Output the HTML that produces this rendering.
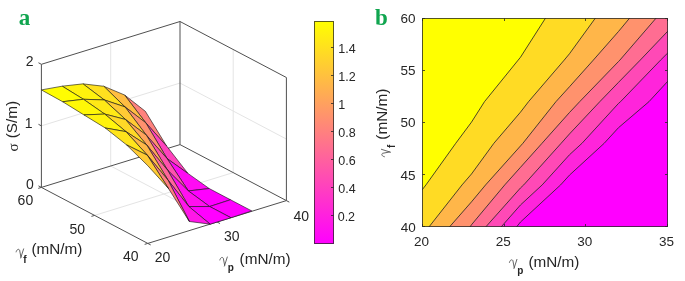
<!DOCTYPE html>
<html><head><meta charset="utf-8"><style>
html,body{margin:0;padding:0;background:#fff;}
svg{display:block;will-change:transform;}
text{font-family:"Liberation Sans",sans-serif;fill:#262626;}
.t12{font-size:12.5px;}
.t13{font-size:13.5px;}
.t14{font-size:14px;}
.t15{font-size:15.3px;}
.g15{font-family:"Liberation Serif",serif;font-size:15px;}
.sub{font-size:10px;font-weight:bold;}
.lab{font-family:"Liberation Serif",serif;font-weight:bold;font-size:23px;fill:#10a54f;}
</style></head><body>
<svg width="685" height="281" viewBox="0 0 685 281">
<rect width="685" height="281" fill="#fff"/>
<line x1="110.7" y1="166" x2="110.7" y2="42.9" stroke="#e4e4e4" stroke-width="1.0"/>
<line x1="110.7" y1="166" x2="217.1" y2="222" stroke="#e4e4e4" stroke-width="1.0"/>
<line x1="233.2" y1="172.6" x2="233.2" y2="49.5" stroke="#e4e4e4" stroke-width="1.0"/>
<line x1="94.6" y1="215.4" x2="233.2" y2="172.6" stroke="#e4e4e4" stroke-width="1.0"/>
<line x1="41.4" y1="125.85" x2="180" y2="83.05" stroke="#e4e4e4" stroke-width="1.0"/>
<line x1="180" y1="83.05" x2="286.4" y2="139.05" stroke="#e4e4e4" stroke-width="1.0"/>
<line x1="41.4" y1="64.3" x2="180" y2="21.5" stroke="#505050" stroke-width="1.0"/>
<line x1="180" y1="21.5" x2="286.4" y2="77.5" stroke="#505050" stroke-width="1.0"/>
<line x1="180" y1="144.6" x2="180" y2="21.5" stroke="#505050" stroke-width="1.0"/>
<line x1="286.4" y1="200.6" x2="286.4" y2="77.5" stroke="#505050" stroke-width="1.0"/>
<line x1="41.4" y1="187.4" x2="180" y2="144.6" stroke="#505050" stroke-width="1.0"/>
<line x1="180" y1="144.6" x2="286.4" y2="200.6" stroke="#505050" stroke-width="1.0"/>
<line x1="41.4" y1="187.4" x2="41.4" y2="64.3" stroke="#505050" stroke-width="1.0"/>
<line x1="41.4" y1="187.4" x2="147.8" y2="243.4" stroke="#505050" stroke-width="1.0"/>
<line x1="147.8" y1="243.4" x2="286.4" y2="200.6" stroke="#505050" stroke-width="1.0"/>
<line x1="41.4" y1="187.4" x2="38.48" y2="185.86" stroke="#505050" stroke-width="1.0"/>
<line x1="41.4" y1="125.85" x2="38.48" y2="124.31" stroke="#505050" stroke-width="1.0"/>
<line x1="41.4" y1="64.3" x2="38.48" y2="62.76" stroke="#505050" stroke-width="1.0"/>
<line x1="41.4" y1="187.4" x2="38.25" y2="188.37" stroke="#505050" stroke-width="1.0"/>
<line x1="94.6" y1="215.4" x2="91.45" y2="216.37" stroke="#505050" stroke-width="1.0"/>
<line x1="147.8" y1="243.4" x2="144.65" y2="244.37" stroke="#505050" stroke-width="1.0"/>
<line x1="147.8" y1="243.4" x2="150.72" y2="244.94" stroke="#505050" stroke-width="1.0"/>
<line x1="217.1" y1="222" x2="220.02" y2="223.54" stroke="#505050" stroke-width="1.0"/>
<line x1="286.4" y1="200.6" x2="289.32" y2="202.14" stroke="#505050" stroke-width="1.0"/>
<polygon points="124.56,94.97 145.35,111.32 166.63,146.06 145.84,122.84" fill="#ff827d" stroke="#141414" stroke-width="0.62" stroke-linejoin="round"/>
<polygon points="145.84,122.84 166.63,146.06 187.91,173.42 167.12,158.63" fill="#ff42bd" stroke="#141414" stroke-width="0.62" stroke-linejoin="round"/>
<polygon points="167.12,158.63 187.91,173.42 209.19,188.54 188.4,190.95" fill="#ff0bf4" stroke="#141414" stroke-width="0.62" stroke-linejoin="round"/>
<polygon points="103.77,86.28 124.56,94.97 145.84,122.84 125.05,106.93" fill="#ffbd42" stroke="#141414" stroke-width="0.62" stroke-linejoin="round"/>
<polygon points="188.4,190.95 209.19,188.54 230.47,199.76 209.68,206.54" fill="#ff00ff" stroke="#141414" stroke-width="0.62" stroke-linejoin="round"/>
<polygon points="125.05,106.93 145.84,122.84 167.12,158.63 146.33,135.1" fill="#ff916e" stroke="#141414" stroke-width="0.62" stroke-linejoin="round"/>
<polygon points="146.33,135.1 167.12,158.63 188.4,190.95 167.61,170.2" fill="#ff52ad" stroke="#141414" stroke-width="0.62" stroke-linejoin="round"/>
<polygon points="82.98,83.87 103.77,86.28 125.05,106.93 104.26,99.93" fill="#ffe01f" stroke="#141414" stroke-width="0.62" stroke-linejoin="round"/>
<polygon points="167.61,170.2 188.4,190.95 209.68,206.54 188.89,206.56" fill="#ff10ef" stroke="#141414" stroke-width="0.62" stroke-linejoin="round"/>
<polygon points="209.68,206.54 230.47,199.76 251.75,210.93 230.96,217.73" fill="#ff00ff" stroke="#141414" stroke-width="0.62" stroke-linejoin="round"/>
<polygon points="104.26,99.93 125.05,106.93 146.33,135.1 125.54,119.49" fill="#ffca35" stroke="#141414" stroke-width="0.62" stroke-linejoin="round"/>
<polygon points="62.19,86.18 82.98,83.87 104.26,99.93 83.47,99.29" fill="#fff20d" stroke="#141414" stroke-width="0.62" stroke-linejoin="round"/>
<polygon points="188.89,206.56 209.68,206.54 230.96,217.73 210.17,224.17" fill="#ff00ff" stroke="#141414" stroke-width="0.62" stroke-linejoin="round"/>
<polygon points="125.54,119.49 146.33,135.1 167.61,170.2 146.82,145.08" fill="#ffa45b" stroke="#141414" stroke-width="0.62" stroke-linejoin="round"/>
<polygon points="41.4,89.9 62.19,86.18 83.47,99.29 62.68,101.72" fill="#fffd02" stroke="#141414" stroke-width="0.62" stroke-linejoin="round"/>
<polygon points="146.82,145.08 167.61,170.2 188.89,206.56 168.1,180.26" fill="#ff6699" stroke="#141414" stroke-width="0.62" stroke-linejoin="round"/>
<polygon points="83.47,99.29 104.26,99.93 125.54,119.49 104.75,114.08" fill="#ffe916" stroke="#141414" stroke-width="0.62" stroke-linejoin="round"/>
<polygon points="168.1,180.26 188.89,206.56 210.17,224.17 189.38,221.5" fill="#ff17e8" stroke="#141414" stroke-width="0.62" stroke-linejoin="round"/>
<polygon points="104.75,114.08 125.54,119.49 146.82,145.08 126.03,131.66" fill="#ffd827" stroke="#141414" stroke-width="0.62" stroke-linejoin="round"/>
<polygon points="62.68,101.72 83.47,99.29 104.75,114.08 83.96,114.92" fill="#fff807" stroke="#141414" stroke-width="0.62" stroke-linejoin="round"/>
<polygon points="126.03,131.66 146.82,145.08 168.1,180.26 147.31,155.14" fill="#ffb847" stroke="#141414" stroke-width="0.62" stroke-linejoin="round"/>
<polygon points="147.31,155.14 168.1,180.26 189.38,221.5 168.59,188.67" fill="#ff7e81" stroke="#141414" stroke-width="0.62" stroke-linejoin="round"/>
<polygon points="83.96,114.92 104.75,114.08 126.03,131.66 105.24,127.97" fill="#fff30c" stroke="#141414" stroke-width="0.62" stroke-linejoin="round"/>
<polygon points="105.24,127.97 126.03,131.66 147.31,155.14 126.52,144.85" fill="#ffe41b" stroke="#141414" stroke-width="0.62" stroke-linejoin="round"/>
<polygon points="126.52,144.85 147.31,155.14 168.59,188.67 147.8,165.68" fill="#ffcb34" stroke="#141414" stroke-width="0.62" stroke-linejoin="round"/>
<defs><linearGradient id="cb" x1="0" y1="1" x2="0" y2="0"><stop offset="0" stop-color="#ff00ff"/><stop offset="1" stop-color="#ffff00"/></linearGradient></defs>
<rect x="314.0" y="21.0" width="20" height="223" fill="url(#cb)"/>
<rect x="314.5" y="21.5" width="19" height="222" fill="none" stroke="#262626" stroke-opacity="0.75" stroke-width="1"/>
<line x1="333.5" y1="215.5" x2="331" y2="215.5" stroke="#262626" stroke-width="1.0" stroke-opacity="0.8"/>
<line x1="333.5" y1="187.5" x2="331" y2="187.5" stroke="#262626" stroke-width="1.0" stroke-opacity="0.8"/>
<line x1="333.5" y1="159.5" x2="331" y2="159.5" stroke="#262626" stroke-width="1.0" stroke-opacity="0.8"/>
<line x1="333.5" y1="131.5" x2="331" y2="131.5" stroke="#262626" stroke-width="1.0" stroke-opacity="0.8"/>
<line x1="333.5" y1="103.5" x2="331" y2="103.5" stroke="#262626" stroke-width="1.0" stroke-opacity="0.8"/>
<line x1="333.5" y1="75.5" x2="331" y2="75.5" stroke="#262626" stroke-width="1.0" stroke-opacity="0.8"/>
<line x1="333.5" y1="47.5" x2="331" y2="47.5" stroke="#262626" stroke-width="1.0" stroke-opacity="0.8"/>
<clipPath id="cbx"><rect x="422.0" y="18.0" width="246.0" height="209.0"/></clipPath>
<g clip-path="url(#cbx)">
<rect x="422.0" y="18.0" width="246.0" height="209.0" fill="#ff00ff"/>
<path d="M471.5 18L520.5 18L569.5 18L618.5 18L668 18L668 60.1L668 81.03L648.95 101.7L618.5 127.67L604.18 143.3L569.5 175.1L560.62 184.9L520.5 222L516.44 227L471.5 227L422 227L422 184.9L422 143.3L422 101.7L422 60.1L422 18Z" fill="#ff24db" fill-rule="evenodd"/>
<path d="M471.5 18L520.5 18L569.5 18L618.5 18L668 18L668 52.72L660.59 60.1L620.52 101.7L618.5 103.42L581.98 143.3L569.5 154.74L542.19 184.9L520.5 204.95L501.07 227L471.5 227L422 227L422 184.9L422 143.3L422 101.7L422 60.1L422 18Z" fill="#ff49b6" fill-rule="evenodd"/>
<path d="M471.5 18L520.5 18L569.5 18L618.5 18L668 18L668 30.96L640.24 60.1L618.5 82.35L599.79 101.7L569.5 133.92L561.12 143.3L523.75 184.9L520.5 187.91L485.7 227L471.5 227L422 227L422 184.9L422 143.3L422 101.7L422 60.1L422 18Z" fill="#ff6d92" fill-rule="evenodd"/>
<path d="M471.5 18L520.5 18L569.5 18L618.5 18L656.18 18L619.89 60.1L618.5 61.52L579.65 101.7L569.5 112.49L542 143.3L520.5 167.31L504.75 184.9L471.5 224.76L469.94 227L422 227L422 184.9L422 143.3L422 101.7L422 60.1L422 18Z" fill="#ff926d" fill-rule="evenodd"/>
<path d="M471.5 18L520.5 18L569.5 18L618.5 18L629.69 18L618.5 31.47L593.33 60.1L569.5 86.73L555.91 101.7L522.88 143.3L520.5 145.95L485.62 184.9L471.5 201.83L449.44 227L422 227L422 184.9L422 143.3L422 101.7L422 60.1L422 18Z" fill="#ffb649" fill-rule="evenodd"/>
<path d="M471.5 18L520.5 18L569.5 18L595.44 18L569.5 53.72L564.21 60.1L528.53 101.7L520.5 112.14L493.87 143.3L471.5 173.98L462.05 184.9L428.93 227L422 227L422 184.9L422 143.3L422 101.7L422 60.1L422 18Z" fill="#ffdb24" fill-rule="evenodd"/>
<path d="M471.5 18L520.5 18L545.58 18L520.5 57.22L518.16 60.1L484.47 101.7L471.5 122.11L455.74 143.3L425.96 184.9L422 190L422 184.9L422 143.3L422 101.7L422 60.1L422 18Z" fill="#ffff00" fill-rule="evenodd"/>
<polyline points="668,81.03 648.95,101.7 618.5,127.67 604.18,143.3 569.5,175.1 560.62,184.9 520.5,222 516.44,227" fill="none" stroke="#222" stroke-width="0.95" stroke-opacity="0.85" stroke-linejoin="round"/>
<polyline points="668,52.72 660.59,60.1 620.52,101.7 618.5,103.42 581.98,143.3 569.5,154.74 542.19,184.9 520.5,204.95 501.07,227" fill="none" stroke="#222" stroke-width="0.95" stroke-opacity="0.85" stroke-linejoin="round"/>
<polyline points="668,30.96 640.24,60.1 618.5,82.35 599.79,101.7 569.5,133.92 561.12,143.3 523.75,184.9 520.5,187.91 485.7,227" fill="none" stroke="#222" stroke-width="0.95" stroke-opacity="0.85" stroke-linejoin="round"/>
<polyline points="656.18,18 619.89,60.1 618.5,61.52 579.65,101.7 569.5,112.49 542,143.3 520.5,167.31 504.75,184.9 471.5,224.76 469.94,227" fill="none" stroke="#222" stroke-width="0.95" stroke-opacity="0.85" stroke-linejoin="round"/>
<polyline points="629.69,18 618.5,31.47 593.33,60.1 569.5,86.73 555.91,101.7 522.88,143.3 520.5,145.95 485.62,184.9 471.5,201.83 449.44,227" fill="none" stroke="#222" stroke-width="0.95" stroke-opacity="0.85" stroke-linejoin="round"/>
<polyline points="595.44,18 569.5,53.72 564.21,60.1 528.53,101.7 520.5,112.14 493.87,143.3 471.5,173.98 462.05,184.9 428.93,227" fill="none" stroke="#222" stroke-width="0.95" stroke-opacity="0.85" stroke-linejoin="round"/>
<polyline points="545.58,18 520.5,57.22 518.16,60.1 484.47,101.7 471.5,122.11 455.74,143.3 425.96,184.9 422,190" fill="none" stroke="#222" stroke-width="0.95" stroke-opacity="0.85" stroke-linejoin="round"/>
</g>
<rect x="422.5" y="18.5" width="245.0" height="208.0" fill="none" stroke="#262626" stroke-opacity="0.78" stroke-width="1"/>
<line x1="422.5" y1="226.5" x2="422.5" y2="224" stroke="#262626" stroke-width="1.0" stroke-opacity="0.8"/>
<line x1="422.5" y1="18.5" x2="422.5" y2="21" stroke="#262626" stroke-width="1.0" stroke-opacity="0.8"/>
<line x1="504.5" y1="226.5" x2="504.5" y2="224" stroke="#262626" stroke-width="1.0" stroke-opacity="0.8"/>
<line x1="504.5" y1="18.5" x2="504.5" y2="21" stroke="#262626" stroke-width="1.0" stroke-opacity="0.8"/>
<line x1="585.5" y1="226.5" x2="585.5" y2="224" stroke="#262626" stroke-width="1.0" stroke-opacity="0.8"/>
<line x1="585.5" y1="18.5" x2="585.5" y2="21" stroke="#262626" stroke-width="1.0" stroke-opacity="0.8"/>
<line x1="667.5" y1="226.5" x2="667.5" y2="224" stroke="#262626" stroke-width="1.0" stroke-opacity="0.8"/>
<line x1="667.5" y1="18.5" x2="667.5" y2="21" stroke="#262626" stroke-width="1.0" stroke-opacity="0.8"/>
<line x1="422.5" y1="226.5" x2="425" y2="226.5" stroke="#262626" stroke-width="1.0" stroke-opacity="0.8"/>
<line x1="667.5" y1="226.5" x2="665" y2="226.5" stroke="#262626" stroke-width="1.0" stroke-opacity="0.8"/>
<line x1="422.5" y1="174.5" x2="425" y2="174.5" stroke="#262626" stroke-width="1.0" stroke-opacity="0.8"/>
<line x1="667.5" y1="174.5" x2="665" y2="174.5" stroke="#262626" stroke-width="1.0" stroke-opacity="0.8"/>
<line x1="422.5" y1="122.5" x2="425" y2="122.5" stroke="#262626" stroke-width="1.0" stroke-opacity="0.8"/>
<line x1="667.5" y1="122.5" x2="665" y2="122.5" stroke="#262626" stroke-width="1.0" stroke-opacity="0.8"/>
<line x1="422.5" y1="70.5" x2="425" y2="70.5" stroke="#262626" stroke-width="1.0" stroke-opacity="0.8"/>
<line x1="667.5" y1="70.5" x2="665" y2="70.5" stroke="#262626" stroke-width="1.0" stroke-opacity="0.8"/>
<line x1="422.5" y1="18.5" x2="425" y2="18.5" stroke="#262626" stroke-width="1.0" stroke-opacity="0.8"/>
<line x1="667.5" y1="18.5" x2="665" y2="18.5" stroke="#262626" stroke-width="1.0" stroke-opacity="0.8"/>
<text id="Ta" x="18.80" y="24.50" class="lab">a</text>
<text id="Tb" x="375.00" y="25.30" class="lab">b</text>
<text id="Tz0" x="26.00" y="189.20" class="t14">0</text>
<text id="Tz1" x="24.70" y="128.30" class="t14">1</text>
<text id="Tz2" x="25.70" y="66.30" class="t14">2</text>
<text id="Tf60" x="17.60" y="205.20" class="t14">60</text>
<text id="Tf50" x="69.50" y="233.80" class="t14">50</text>
<text id="Tf40" x="123.00" y="261.30" class="t14">40</text>
<text id="Tp20" x="154.70" y="261.60" class="t14">20</text>
<text id="Tp30" x="224.00" y="240.80" class="t14">30</text>
<text id="Tp40" x="293.50" y="221.30" class="t14">40</text>
<text id="Tcb14" x="338.30" y="52.80" class="t12">1.4</text>
<text id="Tcb02" x="337.70" y="220.50" class="t12">0.2</text>
<text id="Tb60" x="400.40" y="22.80" class="t13">60</text>
<text id="Tb40y" x="400.70" y="232.10" class="t13">40</text>
<text id="Tb20x" x="414.00" y="246.00" class="t13">20</text>
<text id="TsS" transform="translate(17.00,138.35) rotate(-90)" class="t15">(S/m)</text>
<text id="Tsg" transform="translate(18.40,151.55) rotate(-90)" class="g15">σ</text>
<text id="TaFs" x="23.20" y="262.50" class="sub">f</text>
<text id="TaFu" x="31.40" y="254.20" class="t15">(mN/m)</text>
<text id="TaPs" x="227.70" y="271.20" class="sub">p</text>
<text id="TaPu" x="239.60" y="264.40" class="t15">(mN/m)</text>
<text id="TbPs" x="517.30" y="274.30" class="sub">p</text>
<text id="TbPu" x="528.40" y="267.30" class="t15">(mN/m)</text>
<text id="TbFu" transform="translate(387.30,139.70) rotate(-90)" class="t15">(mN/m)</text>
<text id="TbFs" transform="translate(394.80,147.90) rotate(-90)" class="sub">f</text>
<text x="338.30" y="192.55" class="t12">0.4</text>
<text x="338.30" y="164.60" class="t12">0.6</text>
<text x="338.30" y="136.65" class="t12">0.8</text>
<text x="338.30" y="108.70" class="t12">1</text>
<text x="338.30" y="80.75" class="t12">1.2</text>
<text x="400.55" y="179.77" class="t13">45</text>
<text x="400.55" y="127.45" class="t13">50</text>
<text x="400.55" y="75.13" class="t13">55</text>
<text x="495.67" y="246.00" class="t13">25</text>
<text x="577.33" y="246.00" class="t13">30</text>
<text x="659.00" y="246.00" class="t13">35</text>
<path d="M0.25,3.4 C0.7,1.2 2.5,-0.1 3.7,1.6 L5.05,8.7 M7.7,0.4 L5.05,8.7 L4.75,9.5" transform="translate(15.90,248.50)" fill="none" stroke="#4a4a4a" stroke-width="0.85" stroke-linecap="round"/>
<path d="M0.25,3.4 C0.7,1.2 2.5,-0.1 3.7,1.6 L5.05,8.7 M7.7,0.4 L5.05,8.7 L4.75,9.5" transform="translate(219.60,256.60)" fill="none" stroke="#4a4a4a" stroke-width="0.85" stroke-linecap="round"/>
<path d="M0.25,3.4 C0.7,1.2 2.5,-0.1 3.7,1.6 L5.05,8.7 M7.7,0.4 L5.05,8.7 L4.75,9.5" transform="translate(509.20,259.00)" fill="none" stroke="#4a4a4a" stroke-width="0.85" stroke-linecap="round"/>
<path d="M0.25,3.4 C0.7,1.2 2.5,-0.1 3.7,1.6 L5.05,8.7 M7.7,0.4 L5.05,8.7 L4.75,9.5" transform="translate(381.00,157.00) rotate(-90)" fill="none" stroke="#4a4a4a" stroke-width="0.85" stroke-linecap="round"/>
</svg></body></html>
